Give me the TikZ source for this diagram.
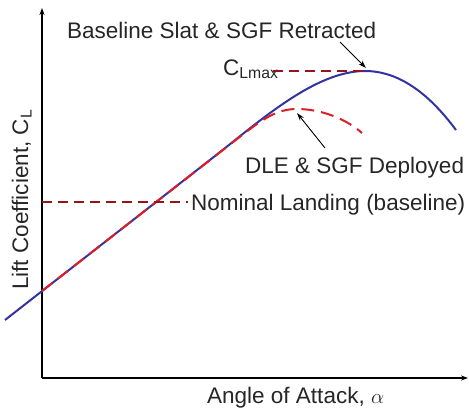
\documentclass[tikz,border=0pt]{standalone}
\usepackage{fontspec}
\setmainfont{Liberation Sans}
\usetikzlibrary{arrows.meta}
\definecolor{cblue}{RGB}{50,50,160}
\definecolor{cred}{RGB}{220,30,40}
\definecolor{cdark}{RGB}{150,20,25}
\begin{document}
\begin{tikzpicture}[x=1pt,y=-1pt,
  lbl/.style={inner sep=0pt,font=\fontsize{22.5}{26}\selectfont,text=black!85},
  axis/.style={line width=1.4pt,-{Stealth[length=7pt,width=5pt]}},
  pointer/.style={line width=0.9pt,-{Stealth[length=8pt,width=5pt]}},
  blue curve/.style={cblue,line width=2pt},
  red curve/.style={cred,line width=2pt,dash pattern=on 13pt off 7pt},
  ref line/.style={cdark,line width=1.6pt,dash pattern=on 10pt off 6pt}]
\useasboundingbox (0,0) rectangle (469,408);
% axes
\coordinate (O) at (42,378);
\coordinate (Ytop) at (42,8);
\coordinate (Xend) at (468,378);
\draw[axis] (O) -- (Ytop);
\draw[axis] (O) -- (Xend);
% curves
\coordinate (B0) at (5,320);
\coordinate (R0) at (42,291);
\coordinate (JB) at (215,156);
\coordinate (JR) at (235,140.6);
\coordinate (Bmax) at (365,71);
\coordinate (Bend) at (456,130);
\coordinate (Rmax) at (297,109);
\coordinate (Rend) at (362,133);
\draw[blue curve] (B0) -- (JB) .. controls (260,121) and (315,71) .. (Bmax)
  .. controls (400,71) and (430,95) .. (Bend);
\draw[red curve] (R0) -- (JR) .. controls (262,119.5) and (276,109) .. (Rmax)
  .. controls (320,109) and (345,118) .. (Rend);
% reference lines
\node[lbl,anchor=base west] (clmax) at (223,75) {C\textsubscript{Lmax}};
\coordinate (C1) at (273,71);
\draw[ref line] (C1) -- (Bmax);
\node[lbl,anchor=base west] (nom) at (191,210) {Nominal Landing (baseline)};
\coordinate (N0) at (42,202);
\coordinate (N1) at (188,202);
\draw[ref line] (N0) -- (N1);
% labels
\node[lbl,anchor=base west] (base) at (67,38) {Baseline Slat \& SGF Retracted};
\coordinate (A1s) at (340,42);
\coordinate (A1e) at (366,68);
\draw[pointer] (A1s) -- (A1e);
\node[lbl,anchor=base west] (dle) at (245,173) {DLE \& SGF Deployed};
\coordinate (A2s) at (325,148);
\coordinate (A2e) at (297,113);
\draw[pointer] (A2s) -- (A2e);
\node[lbl,anchor=base west] (xl) at (207,403) {Angle of Attack, $\alpha$};
\node[lbl,anchor=base west,rotate=90] (yl) at (28,290) {Lift Coefficient, C\textsubscript{L}};
\end{tikzpicture}
\end{document}
